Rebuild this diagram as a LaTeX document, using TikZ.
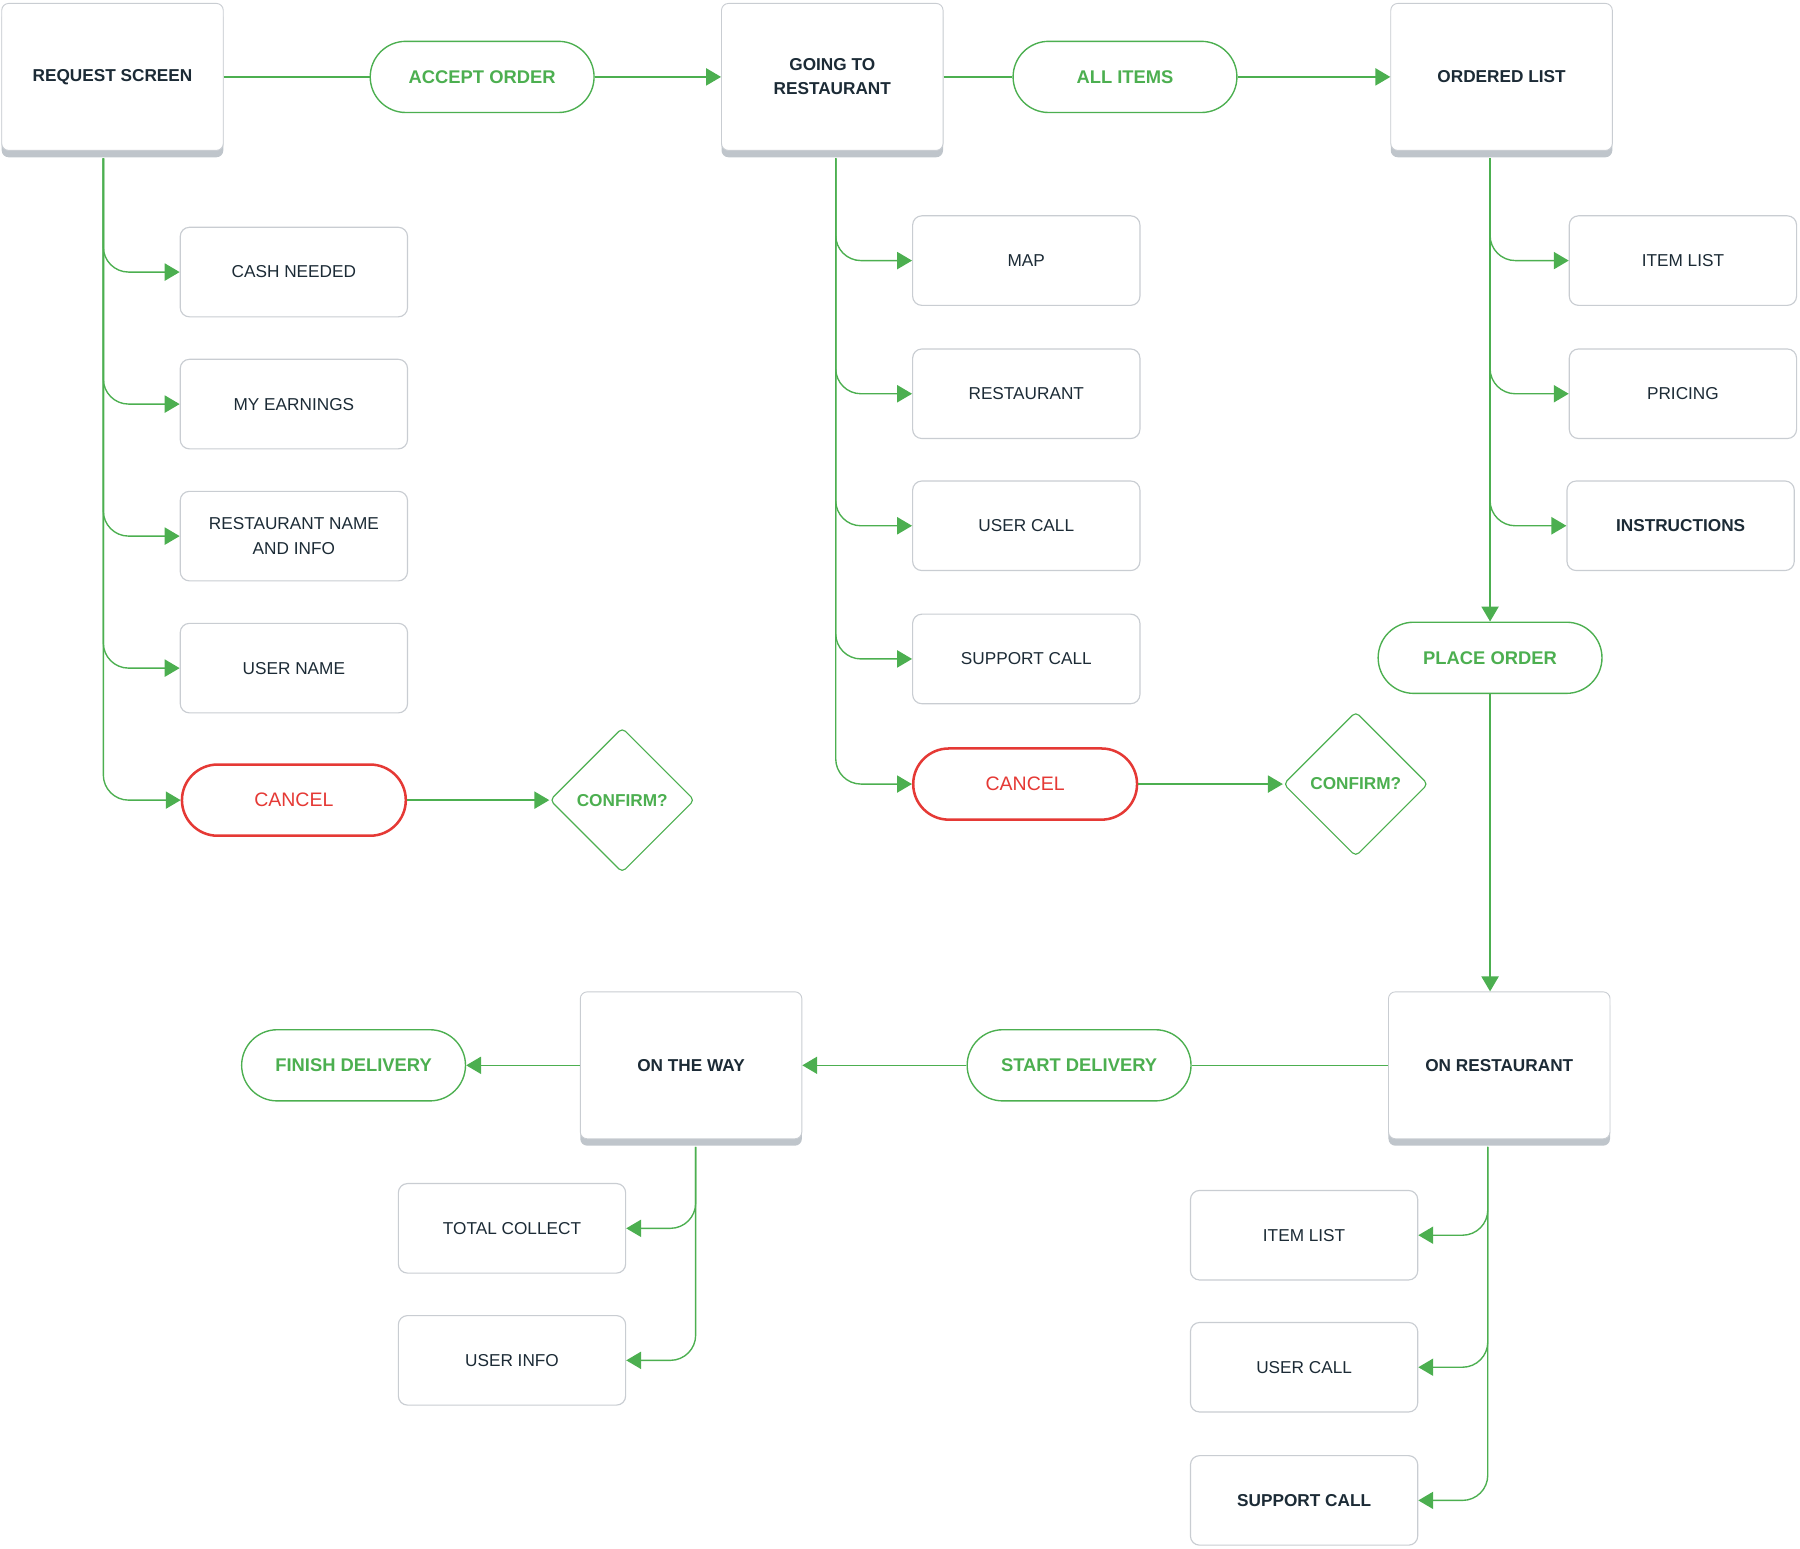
\documentclass[tikz,border=0pt]{standalone}
\usepackage{fontspec}
\setmainfont{Liberation Sans}
\usetikzlibrary{shapes.geometric,arrows.meta}
\definecolor{gr}{HTML}{4CAF50}
\definecolor{rd}{HTML}{E53935}
\definecolor{tx}{HTML}{1C2B36}
\definecolor{bd}{HTML}{C9CDD2}
\definecolor{sh}{HTML}{BFC5CB}
\begin{document}
\begin{tikzpicture}[x=1pt,y=-1pt,
 big/.style={draw=bd,fill=white,rounded corners=6,minimum width=193,minimum height=128,font=\fontsize{15}{21}\selectfont\bfseries,text=tx,align=center,line width=0.8},
 small/.style={draw=bd,fill=white,rounded corners=8,minimum width=198,minimum height=78,font=\fontsize{15}{21}\selectfont,text=tx,align=center,line width=1},
 pill/.style={draw=gr,fill=white,rounded corners=31,minimum width=195,minimum height=62,font=\fontsize{16}{20}\selectfont\bfseries,text=gr,line width=1.2},
 rpill/.style={draw=rd,fill=white,rounded corners=31,minimum width=195,minimum height=62,font=\fontsize{17}{20}\selectfont,text=rd,line width=2.2},
 dia/.style={diamond,draw=gr,fill=white,minimum width=126,minimum height=126,font=\fontsize{15}{20}\selectfont\bfseries,text=gr,inner sep=0,line width=1,rounded corners=4},
 conn/.style={draw=gr,line width=1.2,-{Triangle[length=13,width=15]}},
 br/.style={conn,rounded corners=22},
 ln/.style={draw=gr,line width=1.2}]
\useasboundingbox (0,0) rectangle (1568,1349);
\newcommand{\bigbox}[4]{\fill[sh,rounded corners=6] (#2-96.5,#3-58) rectangle (#2+96.5,#3+70);
 \node[big] (#1) at (#2,#3) {#4};}
\bigbox{rs}{98}{67}{REQUEST SCREEN}
\bigbox{gr}{725}{67}{GOING TO\\RESTAURANT}
\bigbox{ol}{1308}{67}{ORDERED LIST}
\bigbox{or}{1306}{928}{ON RESTAURANT}
\bigbox{ow}{602}{928}{ON THE WAY}
\node[pill] (ao) at (420,67) {ACCEPT ORDER};
\node[pill] (ai) at (980,67) {ALL ITEMS};
\node[pill] (po) at (1298,573) {PLACE ORDER};
\node[pill] (sd) at (940,928) {START DELIVERY};
\node[pill] (fd) at (308,928) {FINISH DELIVERY};
\node[rpill] (c1) at (256,697) {CANCEL};
\node[rpill] (c2) at (893,683) {CANCEL};
\node[dia] (d1) at (542,697) {CONFIRM?};
\node[dia] (d2) at (1181,683) {CONFIRM?};
\node[small] (a1) at (256,237) {CASH NEEDED};
\node[small] (a2) at (256,352) {MY EARNINGS};
\node[small] (a3) at (256,467) {RESTAURANT NAME\\AND INFO};
\node[small] (a4) at (256,582) {USER NAME};
\node[small] (b1) at (894,227) {MAP};
\node[small] (b2) at (894,343) {RESTAURANT};
\node[small] (b3) at (894,458) {USER CALL};
\node[small] (b4) at (894,574) {SUPPORT CALL};
\node[small] (e1) at (1466,227) {ITEM LIST};
\node[small] (e2) at (1466,343) {PRICING};
\node[small,font=\fontsize{15}{21}\selectfont\bfseries] (e3) at (1464,458) {INSTRUCTIONS};
\node[small] (f1) at (446,1070) {TOTAL COLLECT};
\node[small] (f2) at (446,1185) {USER INFO};
\node[small] (g1) at (1136,1076) {ITEM LIST};
\node[small] (g2) at (1136,1191) {USER CALL};
\node[small,font=\fontsize{15}{21}\selectfont\bfseries] (g3) at (1136,1307) {SUPPORT CALL};
\coordinate (t1) at (90,138);
\coordinate (t2) at (728,138);
\coordinate (t3) at (1298,138);
\coordinate (t4) at (1296,999);
\coordinate (t5) at (606,999);
\draw[ln] (rs.east) -- (ao.west);
\draw[conn] (ao.east) -- (gr.west);
\draw[ln] (gr.east) -- (ai.west);
\draw[conn] (ai.east) -- (ol.west);
\foreach \n in {a1,a2,a3,a4,c1}{\draw[br] (t1) |- (\n.west);}
\foreach \n in {b1,b2,b3,b4,c2}{\draw[br] (t2) |- (\n.west);}
\foreach \n in {e1,e2,e3}{\draw[br] (t3) |- (\n.west);}
\draw[conn] (t3) -- (po.north);
\draw[conn] (c1.east) -- (d1.west);
\draw[conn] (c2.east) -- (d2.west);
\draw[conn] (po.south) -- (po.south |- or.north);
\foreach \n in {g1,g2,g3}{\draw[br] (t4) |- (\n.east);}
\foreach \n in {f1,f2}{\draw[br] (t5) |- (\n.east);}
\draw[ln] (or.west) -- (sd.east);
\draw[conn] (sd.west) -- (ow.east);
\draw[conn] (ow.west) -- (fd.east);
\end{tikzpicture}
\end{document}
